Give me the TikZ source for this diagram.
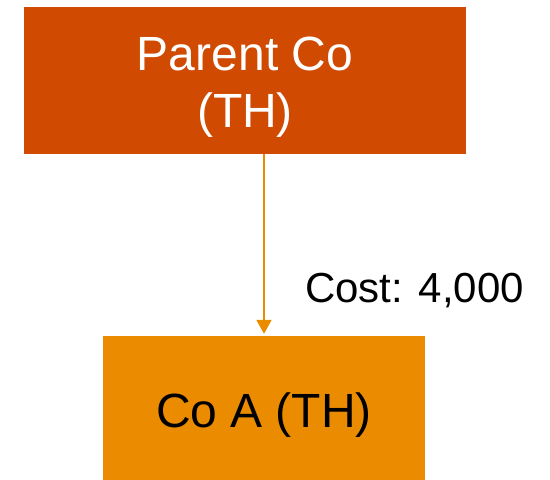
\documentclass[tikz,border=0pt]{standalone}
\usepackage{fontspec}
\setmainfont{Liberation Sans}
\usetikzlibrary{arrows.meta}
\definecolor{pdark}{HTML}{D04A02}
\definecolor{porange}{HTML}{EB8C00}
\begin{document}
\begin{tikzpicture}[x=1pt,y=-1pt,
  boxstyle/.style={rectangle, inner sep=0pt, align=center},
  link/.style={draw=porange, line width=2pt, -{Triangle[width=15pt,length=14pt]}}]
\useasboundingbox (0,0) rectangle (550,480);
\node[boxstyle, fill=pdark, text=white, minimum width=442pt, minimum height=147pt,
  text height=103pt, text depth=10pt,
  font=\fontsize{48pt}{57pt}\selectfont] (parent) at (245,80.5) {Parent Co\\(TH)};
\node[boxstyle, fill=porange, text=black, minimum width=322pt, minimum height=144pt,
  text height=48pt, text depth=10pt,
  font=\fontsize{48pt}{57pt}\selectfont] (coa) at (264,408) {Co A (TH)};
\draw[link, shorten >=2pt] (parent.south -| coa.north) -- (coa.north);
\node[anchor=base west, inner sep=0pt, font=\fontsize{42pt}{50pt}\selectfont] (cost) at (305,302) {Cost: 4,000};
\end{tikzpicture}
\end{document}
